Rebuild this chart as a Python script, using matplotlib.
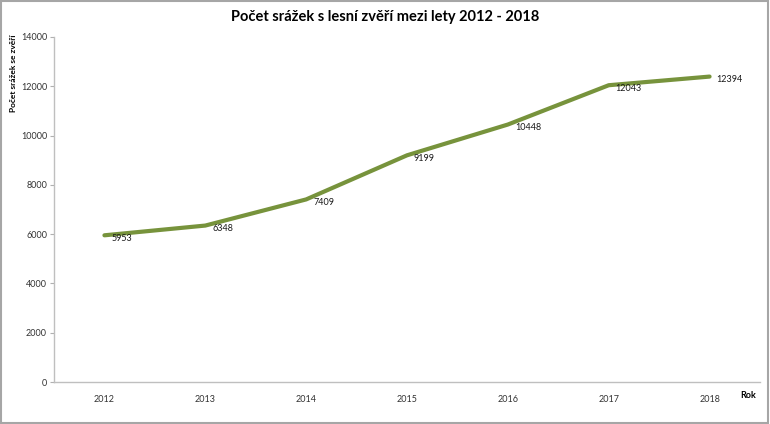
#!/usr/bin/env python
# coding: utf-8
"""
Line chart of wildlife collisions per year, 2012 - 2018.
"""
import matplotlib
matplotlib.use('Agg')
from matplotlib import pyplot as plt
from matplotlib.patches import Rectangle

years = ['2012', '2013', '2014', '2015', '2016', '2017', '2018']
collisions = [5953, 6348, 7409, 9199, 10448, 12043, 12394]
yticks = [0, 2000, 4000, 6000, 8000, 10000, 12000, 14000]

plt.rcParams['font.family'] = ['Lato', 'DejaVu Sans']

fig = plt.figure(figsize=(7.7, 4.24), dpi=100)
ax = fig.add_axes([54/770, 1 - 382/424, 706/770, 345/424])

x = list(range(len(years)))
ax.plot(x, collisions, color='#77933C', lw=3, solid_capstyle='round', solid_joinstyle='round')
for xi, v in zip(x, collisions):
    ax.annotate(str(v), (xi, v), xytext=(5, -2), textcoords='offset points',
                ha='left', va='center', fontsize=6.5, color='#1a1a1a')

ax.set_xlim(-0.5, len(years) - 0.5)
ax.set_ylim(0, 14000)
ax.set_xticks(x)
ax.set_xticklabels(years)
ax.set_yticks(yticks)
ax.tick_params(axis='x', length=0, labelsize=6.5, pad=9, colors='#333333')
ax.tick_params(axis='y', length=3, width=0.8, color='#b0b0b0', labelsize=6.5, pad=2, labelcolor='#333333')
for side in ['top', 'right']:
    ax.spines[side].set_visible(False)
for side in ['left', 'bottom']:
    ax.spines[side].set_color('#bfbfbf')
    ax.spines[side].set_linewidth(1.0)

fig.text(0.5, 1 - 17/424, 'Počet srážek s lesní zvěří mezi lety 2012 - 2018',
         ha='center', va='center', fontsize=10.5, fontweight='bold')
fig.text(14/770, 1 - 35/424, 'Počet srážek se zvěří', rotation=90,
         ha='center', va='top', fontsize=6, fontweight='bold')
fig.text(748/770, 1 - 396/424, 'Rok', ha='center', va='center',
         fontsize=6.5, fontweight='bold')

fig.patches.append(Rectangle((0.001, 0.002), 0.997, 0.995, transform=fig.transFigure,
                             fill=False, edgecolor='#a6a6a6', lw=1.5))

fig.savefig('out.png', dpi=100)
